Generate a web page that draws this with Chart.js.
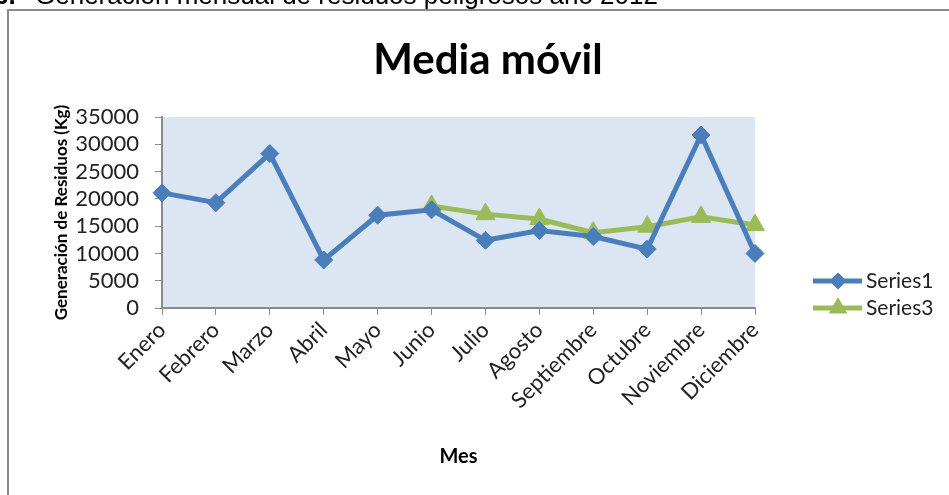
<!DOCTYPE html>
<html>
<head>
<meta charset="utf-8">
<script src="https://cdn.jsdelivr.net/npm/chart.js@4"></script>
<style>
  html, body { margin: 0; padding: 0; background: #fff; overflow: hidden; }
  #wrap { position: relative; width: 949px; height: 495px; }
</style>
</head>
<body>
<div id="wrap">
  <canvas id="mediaChart" width="949" height="495"></canvas>
</div>
<script>
const months = ["Enero", "Febrero", "Marzo", "Abril", "Mayo", "Junio", "Julio",
  "Agosto", "Septiembre", "Octubre", "Noviembre", "Diciembre"];
const series1 = [21100, 19300, 28300, 8800, 17000, 18000, 12400, 14200, 13100, 10800, 31700, 10000];
const series3 = [null, null, null, null, null, 18700, 17200, 16300, 13800, 14900, 16700, 15200];
const yTicks = [0, 5000, 10000, 15000, 20000, 25000, 30000, 35000];
const chartTitle = "Media móvil";

const BLUE = "#4a7ebb";
const GREEN = "#9bbb59";
const FONT = "Lato";

// background, frame, caption, title and plot-area fill
const backdrop = {
  id: "backdrop",
  beforeDraw(chart) {
    const { ctx, chartArea } = chart;
    ctx.save();
    ctx.fillStyle = "#fff";
    ctx.fillRect(0, 0, chart.width, chart.height);
    ctx.fillStyle = "#dce6f2";
    ctx.fillRect(chartArea.left, chartArea.top,
      chartArea.right - chartArea.left, chartArea.bottom - chartArea.top);
    ctx.strokeStyle = "#8a8a8a";
    ctx.lineWidth = 2;
    ctx.strokeRect(8, 10, 1000, 600);
    // caption above the chart box, cut off by the page top
    ctx.fillStyle = "#000";
    ctx.textBaseline = "alphabetic";
    ctx.font = "bold 26px 'Liberation Sans', Arial";
    ctx.fillText("6.", -6, 4);
    ctx.font = "26px 'Liberation Sans', Arial";
    ctx.fillText("Generación mensual de residuos peligrosos año 2012", 35, 4);
    // chart title (centred over the whole box, not the plot)
    ctx.font = "bold 42px " + FONT;
    ctx.textAlign = "center";
    ctx.textBaseline = "middle";
    ctx.fillText(chartTitle, 488, 60);
    ctx.restore();
  }
};

// excel-like legend: line with marker, label to the right
const sideLegend = {
  id: "sideLegend",
  afterDraw(chart) {
    const { ctx } = chart;
    const rows = [281, 308];
    ctx.save();
    chart.data.datasets.forEach((ds, i) => {
      const y = rows[i];
      ctx.strokeStyle = ds.borderColor;
      ctx.lineWidth = ds.borderWidth;
      ctx.beginPath();
      ctx.moveTo(813, y);
      ctx.lineTo(862, y);
      ctx.stroke();
      ctx.fillStyle = ds.pointBackgroundColor;
      ctx.strokeStyle = ds.pointBorderColor;
      ctx.lineWidth = 1;
      Chart.helpers.drawPoint(ctx, {
        pointStyle: ds.pointStyle,
        radius: ds.pointRadius - 1,
        rotation: 0,
        borderWidth: 1
      }, 838, y);
      ctx.fillStyle = "#222";
      ctx.font = "21px " + FONT;
      ctx.textAlign = "left";
      ctx.textBaseline = "middle";
      ctx.fillText(ds.label, 866, y);
    });
    ctx.restore();
  }
};

Chart.defaults.font.family = FONT;

const ctx = document.getElementById("mediaChart").getContext("2d");
new Chart(ctx, {
  type: "line",
  data: {
    labels: months,
    datasets: [
      {
        label: "Series1",
        data: series1,
        borderColor: BLUE,
        backgroundColor: BLUE,
        pointBackgroundColor: BLUE,
        pointBorderColor: BLUE,
        borderWidth: 5,
        pointStyle: "rectRot",
        pointRadius: 9,
        pointBorderWidth: 1,
        tension: 0
      },
      {
        label: "Series3",
        data: series3,
        borderColor: GREEN,
        backgroundColor: GREEN,
        pointBackgroundColor: GREEN,
        pointBorderColor: GREEN,
        borderWidth: 5,
        pointStyle: "triangle",
        pointRadius: 11,
        pointBorderWidth: 1,
        tension: 0
      }
    ]
  },
  options: {
    responsive: false,
    animation: false,
    layout: { padding: { top: 117, left: 0, right: 194, bottom: 0 } },
    plugins: {
      legend: { display: false },
      tooltip: { enabled: false },
      title: { display: false }
    },
    scales: {
      x: {
        offset: false,
        grid: {
          drawOnChartArea: false,
          drawTicks: true,
          tickLength: 7,
          color: "#8a8a8a",
          lineWidth: 1
        },
        border: { color: "#8a8a8a", width: 2 },
        ticks: {
          color: "#222",
          font: { family: FONT, size: 22 },
          minRotation: 45,
          maxRotation: 45,
          padding: 2,
          autoSkip: false
        },
        title: {
          display: true,
          text: "Mes",
          color: "#000",
          font: { family: FONT, size: 20, weight: "bold", lineHeight: 1.2 },
          padding: { top: 4, bottom: 26 }
        },
        afterFit(scale) { scale.height = 187; }
      },
      y: {
        min: 0,
        max: 35000,
        afterBuildTicks(scale) { scale.ticks = yTicks.map(v => ({ value: v })); },
        grid: {
          drawOnChartArea: false,
          drawTicks: true,
          tickLength: 7,
          color: "#8a8a8a",
          lineWidth: 1
        },
        border: { color: "#8a8a8a", width: 2 },
        ticks: {
          color: "#222",
          font: { family: FONT, size: 22 },
          padding: 16,
          autoSkip: false,
          callback: (v) => String(v)
        },
        title: {
          display: true,
          text: "Generación de Residuos (Kg)",
          color: "#000",
          font: { family: FONT, size: 17, weight: "bold", lineHeight: 1.2 },
          padding: { top: 51, bottom: 4 }
        },
        afterFit(scale) { scale.width = 162; }
      }
    }
  },
  plugins: [backdrop, sideLegend]
});
</script>
</body>
</html>
